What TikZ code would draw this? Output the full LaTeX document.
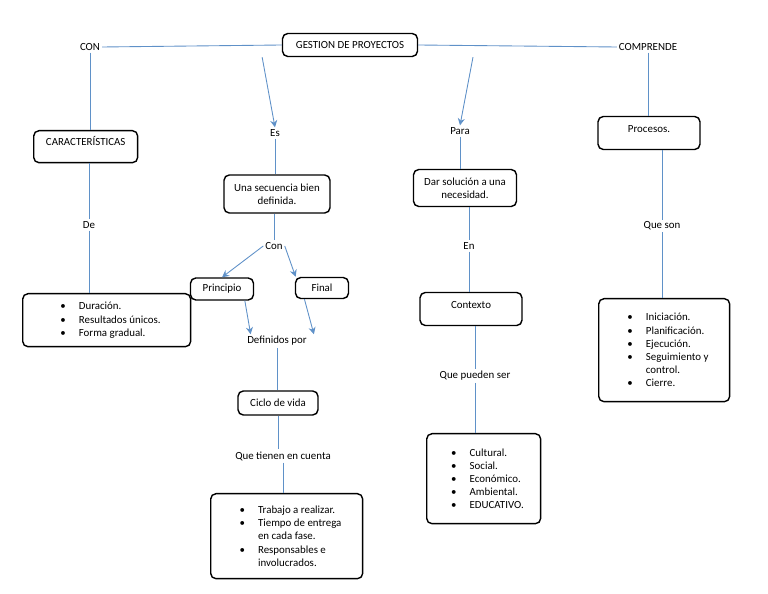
\documentclass[tikz,border=0pt]{standalone}
\usepackage{fontspec}
\setmainfont{Carlito}
\usetikzlibrary{arrows.meta}
\definecolor{linkblue}{RGB}{95,145,200}
\newcommand\bul{\makebox[2.4em][l]{\hspace{0.7em}\textbullet}}
\newcommand\ind{\hspace*{2.4em}}
\tikzset{
  box/.style={draw, rounded corners=3pt, thick, inner sep=2pt, font=\fontsize{6.2}{7.5}\selectfont, align=center},
  lbl/.style={inner sep=1pt, fill=white, font=\fontsize{6.2}{7.5}\selectfont},
  link/.style={draw=linkblue, line width=0.5pt},
  arr/.style={link, -{Stealth[length=4pt,width=4pt]}}
}
\begin{document}
\begin{tikzpicture}[x=0.02cm, y=-0.02cm]
    \useasboundingbox (0,0) rectangle (768,594);
    % Top
    \node[box, minimum width=2.7cm, minimum height=0.46cm] (gp) at (350,45) {GESTION DE PROYECTOS};
    \node[lbl] (con) at (90,47) {CON};
    \node[lbl] (comp) at (648,47) {COMPRENDE};
    
    % Left branch
    \node[box, minimum width=2.08cm, minimum height=0.64cm, anchor=north west, align=left, text depth=6pt] (car) at (33,130) {CARACTERÍSTICAS};
    \node[lbl] (de) at (89,225) {De};
    \node[box, minimum width=3.36cm, minimum height=1.06cm, anchor=north west, align=left] (lst1) at (22,293)
      {\bul Duración.\\ \bul Resultados únicos.\\ \bul Forma gradual.};
    
    % Es branch
    \node[lbl] (es) at (275,133) {Es};
    \node[box, minimum width=2.12cm, minimum height=0.76cm] (sec) at (277,194) {Una secuencia bien\\definida.};
    \node[lbl] (con2) at (274,246) {Con};
    \node[box, minimum width=1.26cm, minimum height=0.44cm] (pri) at (222,289) {Principio};
    \node[box, minimum width=1.06cm, minimum height=0.42cm] (fin) at (322,288) {Final};
    \node[lbl] (def) at (277,341) {Definidos por};
    \node[box, minimum width=1.6cm, minimum height=0.48cm] (cic) at (278,403) {Ciclo de vida};
    \node[lbl] (tie) at (283,456) {Que tienen en cuenta};
    \node[box, minimum width=3.04cm, minimum height=1.7cm, anchor=north west, align=left] (lst2) at (210,493)
      {\bul Trabajo a realizar.\\ \bul Tiempo de entrega\\ \ind en cada fase.\\ \bul Responsables e\\ \ind involucrados.};
    
    % Para branch
    \node[lbl] (para) at (460,131) {Para};
    \node[box, minimum width=2.06cm, minimum height=0.74cm] (dar) at (465,188) {Dar solución a una\\necesidad.};
    \node[lbl] (en) at (469,246) {En};
    \node[box, minimum width=2.04cm, minimum height=0.66cm, text depth=5pt] (ctx) at (471,309) {Contexto};
    \node[lbl] (pue) at (475,376) {Que pueden ser};
    \node[box, minimum width=2.28cm, minimum height=1.8cm, anchor=north west, align=left] (lst3) at (426,433)
      {\bul Cultural.\\ \bul Social.\\ \bul Económico.\\ \bul Ambiental.\\ \bul EDUCATIVO.};
    
    % Comprende branch
    \node[box, minimum width=2.04cm, minimum height=0.66cm, text depth=5pt] (pro) at (649,133) {Procesos.};
    \node[lbl] (son) at (662,226) {Que son};
    \node[box, minimum width=2.62cm, minimum height=2.06cm, anchor=north west, align=left] (lst4) at (598,298)
      {\bul Iniciación.\\ \bul Planificación.\\ \bul Ejecución.\\ \bul Seguimiento y\\ \ind control.\\ \bul Cierre.};
    
    % Connections
    \draw[link] (gp.west) -- (con.east);
    \draw[link] (gp.east) -- (comp.west);
    \draw[link] (con.south) -- (car.north -| con.south);
    \draw[link] (car.south -| de.north) -- (de.north);
    \draw[link] (de.south) -- (lst1.north -| de.south);
    \draw[arr] ([xshift=-50]gp.south) -- (es.north);
    \draw[link] (es.south) -- (sec.north -| es.south);
    \draw[link] (sec.south -| con2.north) -- (con2.north);
    \draw[arr] (con2.west) -- (pri.north);
    \draw[arr] (con2.east) -- ([xshift=-15]fin.north);
    \draw[arr] ([xshift=13]pri.south) -- ([xshift=-15]def.north);
    \draw[arr] ([xshift=-10]fin.south) -- ([xshift=21]def.north);
    \draw[link] (def.south) -- (cic.north -| def.south);
    \draw[link] (cic.south) -- (tie.north -| cic.south);
    \draw[link] (tie.south) -- (lst2.north -| tie.south);
    \draw[arr] ([xshift=70]gp.south) -- (para.north);
    \draw[link] (para.south) -- (dar.north -| para.south);
    \draw[link] (dar.south -| en.north) -- (en.north);
    \draw[link] (en.south) -- (ctx.north -| en.south);
    \draw[link] (ctx.south -| pue.north) -- (pue.north);
    \draw[link] (pue.south) -- (lst3.north -| pue.south);
    \draw[link] (comp.south) -- (pro.north -| comp.south);
    \draw[link] (pro.south -| son.north) -- (son.north);
    \draw[link] (son.south) -- (lst4.north -| son.south);
\end{tikzpicture}
\end{document}
